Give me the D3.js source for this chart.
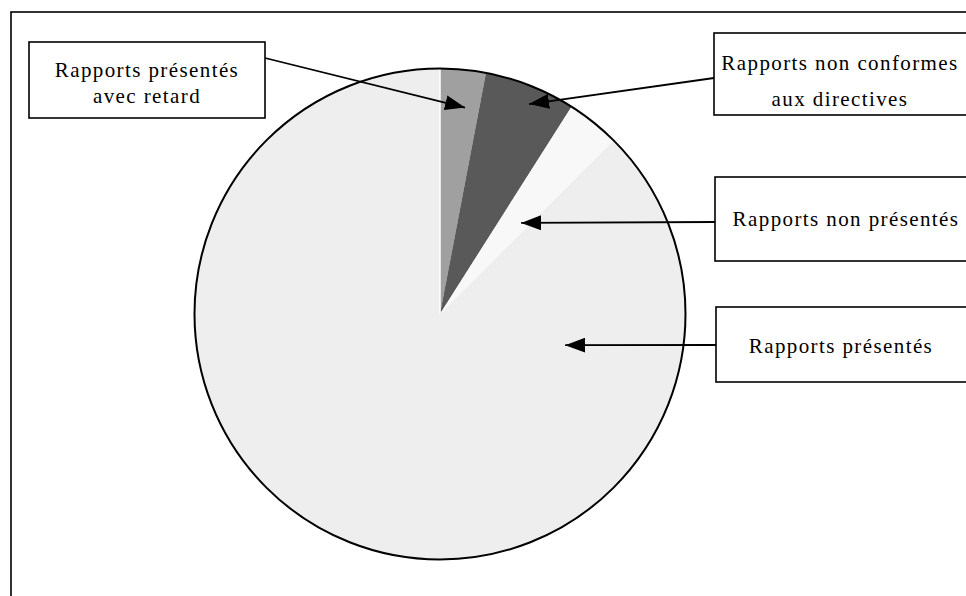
<!DOCTYPE html>
<html>
<head>
<meta charset="utf-8">
<script src="https://cdn.jsdelivr.net/npm/d3@7"></script>
<style>
  body { margin: 0; background: #fff; }
  svg { display: block; }
  .lbl { font-family: "Liberation Serif", "Times New Roman", serif; font-size: 21px; letter-spacing: 1.4px; fill: #000; }
</style>
</head>
<body>
<svg id="chart" width="966" height="596"></svg>
<script>
// slice order: clockwise from 12 o'clock
var categories = ["Rapports présentés avec retard", "Rapports non conformes aux directives", "Rapports non présentés", "Rapports présentés"];
var values = [3, 6, 3.5, 87.5];
var colors = ["#a0a0a0", "#595959", "#f8f8f8", "#eeeeee"];

// callout boxes: label lines, box, and where the arrow points (angle in deg, radius)
var callouts = [
  {lines: ["Rapports présentés", "avec retard"], box: [29, 42, 236, 76], from: [265, 58], tip: [6.9, 208], base: [77, 103], mid: 147},
  {lines: ["Rapports non conformes", "aux directives"], box: [714, 33, 270, 82], from: [714, 78], tip: [23, 228], base: [70, 106], mid: 840},
  {lines: ["Rapports non présentés"], box: [715, 177, 270, 84], from: [715, 222], tip: [41.7, 122], base: [226], mid: 846},
  {lines: ["Rapports présentés"], box: [716, 307, 270, 75], from: [716, 345], tip: [104, 129], base: [353], mid: 841}
];

var svg = d3.select("#chart");
var cx = 440, cy = 314, r = 245.5;

// outer frame, cut by the page edge on the right and bottom
svg.append("rect")
    .attr("x", 11).attr("y", 12)
    .attr("width", 1000).attr("height", 700)
    .attr("fill", "none").attr("stroke", "#000").attr("stroke-width", 1.6);

svg.append("defs").append("marker")
    .attr("id", "head")
    .attr("viewBox", "0 0 20 15")
    .attr("refX", 20).attr("refY", 7.5)
    .attr("markerUnits", "userSpaceOnUse")
    .attr("markerWidth", 20).attr("markerHeight", 15)
    .attr("orient", "auto")
  .append("path")
    .attr("d", "M0,0L20,7.5L0,15Z")
    .attr("fill", "#000");

var pie = d3.pie().sort(null).value(function(d) { return d; });
var arc = d3.arc().innerRadius(0).outerRadius(r);
var arcs = pie(values);

var g = svg.append("g").attr("transform", "translate(" + cx + "," + cy + ")");

g.selectAll("path.slice")
  .data(arcs)
  .enter().append("path")
    .attr("class", "slice")
    .attr("d", arc)
    .attr("fill", function(d, i) { return colors[i]; });

// thin white seam at the start of the first slice
var seam = d3.pointRadial(arcs[0].startAngle, r);
g.append("line")
    .attr("x1", 0).attr("y1", 0)
    .attr("x2", seam[0]).attr("y2", seam[1])
    .attr("stroke", "#fff").attr("stroke-width", 1.5);

g.append("circle")
    .attr("r", r)
    .attr("fill", "none")
    .attr("stroke", "#000")
    .attr("stroke-width", 2);

// callouts
callouts.forEach(function(c) {
  var tip = d3.pointRadial(c.tip[0] * Math.PI / 180, c.tip[1]);
  svg.append("line")
      .attr("x1", c.from[0]).attr("y1", c.from[1])
      .attr("x2", cx + tip[0]).attr("y2", cy + tip[1])
      .attr("stroke", "#000").attr("stroke-width", 1.8)
      .attr("marker-end", "url(#head)");

  svg.append("rect")
      .attr("x", c.box[0]).attr("y", c.box[1])
      .attr("width", c.box[2]).attr("height", c.box[3])
      .attr("fill", "#fff").attr("stroke", "#000").attr("stroke-width", 1.6);

  c.lines.forEach(function(t, j) {
    svg.append("text")
        .attr("class", "lbl")
        .attr("x", c.mid).attr("y", c.base[j])
        .attr("text-anchor", "middle")
        .text(t);
  });
});
</script>
</body>
</html>
